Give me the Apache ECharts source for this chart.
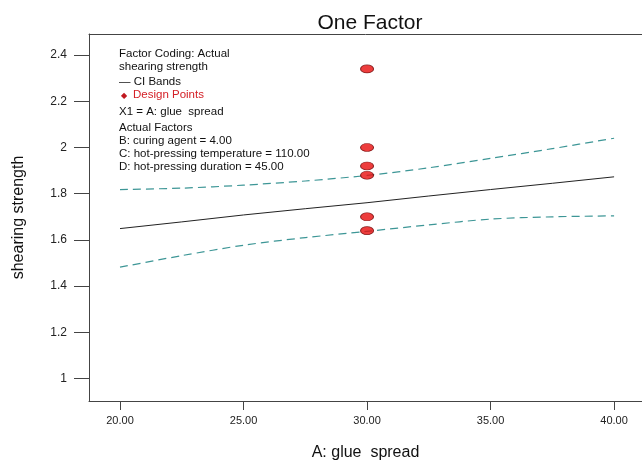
<!DOCTYPE html>
<html>
<head>
<meta charset="utf-8">
<script src="https://cdn.jsdelivr.net/npm/echarts@6/dist/echarts.min.js"></script>
<style>
  html, body { margin: 0; padding: 0; background: #fff; }
  #chart { width: 642px; height: 466px; }
</style>
</head>
<body>
<div id="chart"></div>
<script>
  const glueSpread = [20, 22.5, 25, 27.5, 30, 32.5, 35, 37.5, 40];
  const fitted = [1.649, 1.678, 1.708, 1.735, 1.761, 1.790, 1.818, 1.845, 1.873];
  const upperCI = [1.818, 1.824, 1.837, 1.855, 1.879, 1.912, 1.953, 1.995, 2.040];
  const lowerCI = [1.482, 1.532, 1.577, 1.610, 1.637, 1.665, 1.690, 1.700, 1.704];

  // design points (all at glue spread = 30)
  const designX = [30, 30, 30, 30, 30, 30];
  const designY = [2.34, 2.00, 1.92, 1.88, 1.70, 1.64];

  const xTicks = [20, 25, 30, 35, 40];
  const yTicks = [1, 1.2, 1.4, 1.6, 1.8, 2, 2.2, 2.4];

  const legendLines = [
    'Factor Coding: Actual',
    'shearing strength',
    '— CI Bands',
    'Design Points',
    'X1 = A: glue  spread',
    'Actual Factors',
    'B: curing agent = 4.00',
    'C: hot-pressing temperature = 110.00',
    'D: hot-pressing duration = 45.00',
  ];

  const font = '"Liberation Sans", Arial, sans-serif';
  const pair = (xs, ys) => xs.map((x, i) => [x, ys[i]]);

  const chart = echarts.init(document.getElementById('chart'));

  const legendY = [54, 67, 82, 95, 112, 128, 141, 154, 167];
  const graphic = legendLines.map((t, i) => ({
    type: 'text',
    x: i === 3 ? 133 : 119,
    y: legendY[i],
    style: {
      text: t,
      font: '11.5px ' + font,
      fill: i === 3 ? '#d42027' : '#111',
      verticalAlign: 'middle',
    },
  }));
  graphic.push({
    type: 'text',
    x: 121,
    y: legendY[3] + 1,
    style: { text: '◆', font: '8px "DejaVu Sans", sans-serif', fill: '#c01820', verticalAlign: 'middle' },
  });

  chart.setOption({
    animation: false,
    backgroundColor: '#fff',
    title: {
      text: 'One Factor',
      left: 365,
      textAlign: 'center',
      top: 8,
      textStyle: { fontFamily: font, fontSize: 21, fontWeight: 'normal', color: '#111' },
    },
    grid: { left: 89, top: 34, right: 0, bottom: 65 },
    xAxis: [
      {
        type: 'value',
        min: 18.745,
        max: 41.13,
        name: 'A: glue  spread',
        nameLocation: 'middle',
        nameGap: 44,
        nameTextStyle: { fontFamily: font, fontSize: 16, color: '#111' },
        axisLine: { show: true, lineStyle: { color: '#444' } },
        axisTick: { show: true, length: 9, customValues: xTicks, lineStyle: { color: '#444' } },
        axisLabel: {
          customValues: xTicks,
          margin: 14,
          fontFamily: font,
          fontSize: 11,
          color: '#222',
          formatter: (v) => Number(v).toFixed(2),
        },
        splitLine: { show: false },
      },
      {
        // top frame line only
        type: 'value',
        position: 'top',
        min: 18.745,
        max: 41.13,
        axisLine: { show: true, lineStyle: { color: '#444' } },
        axisTick: { show: false },
        axisLabel: { show: false },
        splitLine: { show: false },
      },
    ],
    yAxis: {
      type: 'value',
      min: 0.903,
      max: 2.491,
      name: 'shearing strength',
      nameLocation: 'middle',
      nameGap: 62,
      nameTextStyle: { fontFamily: font, fontSize: 16, color: '#111' },
      axisLine: { show: true, lineStyle: { color: '#444' } },
      axisTick: { show: true, length: 15, customValues: yTicks, lineStyle: { color: '#444' } },
      axisLabel: {
        customValues: yTicks,
        margin: 22,
        fontFamily: font,
        fontSize: 12,
        color: '#222',
        formatter: (v) => String(Number(Number(v).toFixed(1))),
      },
      splitLine: { show: false },
    },
    graphic,
    series: [
      {
        name: 'fit',
        type: 'line',
        data: pair(glueSpread, fitted),
        showSymbol: false,
        lineStyle: { color: '#222', width: 1 },
      },
      {
        name: 'upper',
        type: 'line',
        data: pair(glueSpread, upperCI),
        smooth: 0.3,
        showSymbol: false,
        lineStyle: { color: '#3d9696', width: 1.2, type: [8, 5] },
      },
      {
        name: 'lower',
        type: 'line',
        data: pair(glueSpread, lowerCI),
        smooth: 0.3,
        showSymbol: false,
        lineStyle: { color: '#3d9696', width: 1.2, type: [8, 5] },
      },
      {
        name: 'Design Points',
        type: 'scatter',
        data: pair(designX, designY),
        symbol: 'circle',
        symbolSize: [13, 8],
        itemStyle: { color: '#e80c0c', borderColor: '#6a0000', borderWidth: 0.8 },
        z: 5,
      },
    ],
  });
</script>
</body>
</html>
